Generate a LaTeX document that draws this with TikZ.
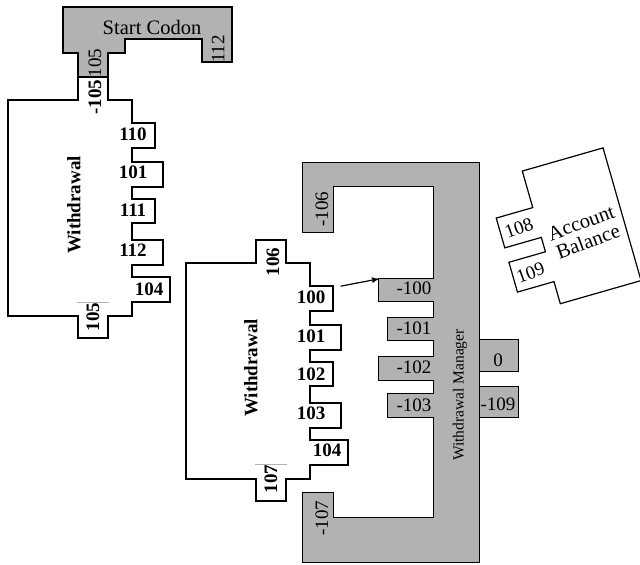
\documentclass[tikz,border=0pt]{standalone}
\usepackage{fontspec}
\setmainfont{Liberation Serif}
\usetikzlibrary{arrows}

\begin{document}
\begin{tikzpicture}[>=stealth', thick, x=1pt, y=-1pt] % Styles
\tikzstyle{piece}=[draw, line width=1.6pt, fill=white]
\tikzstyle{enzyme}=[draw, line width=0.9pt, fill=gray!60]
\tikzstyle{num}=[inner sep=0pt, font=\fontsize{19}{21}\selectfont]
\tikzstyle{bnum}=[inner sep=0pt, font=\fontsize{19}{21}\selectfont\bfseries]
\tikzstyle{title}=[inner sep=0pt, align=center, font=\fontsize{20.5}{20}\selectfont]
\tikzstyle{cursor}=[gray!60, line width=0.8pt] % Shapes
\useasboundingbox (0,0) rectangle (640,565);
\draw[enzyme, line width=1.4pt] (63,7) -- (232,7) -- (232,62) -- (202,62) -- (202,39) -- (125,39) -- (125,53) -- (108,53) -- (108,77) -- (78,77) -- (78,53) -- (63,53) -- cycle;
\foreach \dx/\dy in {0/0,178/163}
  \draw[piece, shift={(\dx,\dy)}] (78,77) -- (108,77) -- (108,100) -- (132,100) -- (132,123) -- (155,123) -- (155,148) -- (132,148) -- (132,162) -- (163,162) -- (163,187) -- (132,187) -- (132,199) -- (155,199) -- (155,223) -- (132,223) -- (132,240) -- (163,240) -- (163,265) -- (132,265) -- (132,277) -- (170,277) -- (170,302) -- (132,302) -- (132,316) -- (108,316) -- (108,338) -- (78,338) -- (78,316) -- (8,316) -- (8,100) -- (78,100) -- cycle;
\draw[enzyme] (302,162) -- (479,162) -- (479,562) -- (302,562) -- (302,492) -- (333,492) -- (333,517) -- (433,517) -- (433,417) -- (387,417) -- (387,393) -- (433,393) -- (433,380) -- (378,380) -- (378,356) -- (433,356) -- (433,340) -- (387,340) -- (387,317) -- (433,317) -- (433,301) -- (378,301) -- (378,278) -- (433,278) -- (433,186) -- (333,186) -- (333,232) -- (302,232) -- cycle;
\draw[enzyme] (479,339) rectangle (518,371);
\draw[enzyme] (479,386) rectangle (518,417);
\begin{scope}[shift={(570,225)}, rotate=16, y=1pt]
\draw[piece, line width=1.2pt] (-31,65) -- (53,65) -- (53,-73) -- (-31,-73) -- (-31,-50) -- (-69,-50) -- (-69,-19) -- (-31,-19) -- (-31,-4) -- (-69,-4) -- (-69,27) -- (-31,27) -- cycle;
\node[num, rotate=20] (acc108) at (-50,11) {108};
\node[num, rotate=20] (acc109) at (-51,-35) {109};
\node[title, rotate=20] (acc) at (12,-11) {Account\\Balance};
\end{scope}
% Start Codon
\node[title] (start) at (152,27) {Start Codon};
\node[num, rotate=90] (start105) at (95,63) {105};
\node[num, rotate=90] (start112) at (218,49) {112};
% Withdrawal
\node[bnum, rotate=90] (w1) at (74,205) {Withdrawal};
\node[bnum, rotate=90] (w1top) at (95,97) {-105};
\node[bnum] (w1a) at (133,134) {110};
\node[bnum] (w1b) at (133,172) {101};
\node[bnum] (w1c) at (133,210) {111};
\node[bnum] (w1d) at (133,250) {112};
\node[bnum] (w1e) at (149,289) {104};
\node[bnum, rotate=90] (w1bot) at (93,317) {105};
\draw[cursor] ([xshift=-16pt]w1bot.east) -- ([xshift=16pt]w1bot.east);
% second Withdrawal
\node[bnum, rotate=90] (w2) at (251,368) {Withdrawal};
\node[bnum, rotate=90] (w2top) at (273,262) {106};
\node[bnum] (w2a) at (311,297) {100};
\node[bnum] (w2b) at (311,336) {101};
\node[bnum] (w2c) at (311,374) {102};
\node[bnum] (w2d) at (311,413) {103};
\node[bnum] (w2e) at (327,450) {104};
\node[bnum, rotate=90] (w2bot) at (271,479) {107};
\draw[cursor] ([xshift=-16pt]w2bot.east) -- ([xshift=16pt]w2bot.east);
% Withdrawal Manager
\node[inner sep=0pt, font=\fontsize{15.5}{17}\selectfont, rotate=90] (mgr) at (460,395) {Withdrawal Manager};
\node[num, rotate=90] (mgr106) at (322,209) {-106};
\node[num, rotate=90] (mgr107) at (322,518) {-107};
\node[num] (mgr100) at (414,288) {-100};
\node[num] (mgr101) at (414,328) {-101};
\node[num] (mgr102) at (414,367) {-102};
\node[num] (mgr103) at (414,405) {-103};
\node[num] (mgr0) at (498,360) {0};
\node[num] (mgr109) at (498,404) {-109};
\coordinate (dock) at (378,279); % Connections
\draw[->, line width=1.2pt] ([xshift=15pt,yshift=4pt]w2a.north east) -- (dock);
\end{tikzpicture}
\end{document}
